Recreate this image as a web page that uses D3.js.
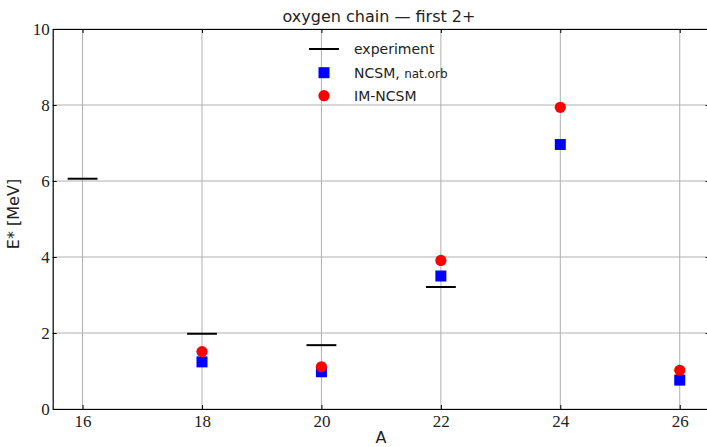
<!DOCTYPE html>
<html>
<head>
<meta charset="utf-8">
<script src="https://cdn.jsdelivr.net/npm/d3@7"></script>
<style>
  html, body { margin: 0; padding: 0; background: #fff; }
  svg { display: block; }
</style>
</head>
<body>
<svg id="chart" width="707" height="447"></svg>
<script>
// Mass numbers and excitation energies of the first 2+ state (MeV)
const expA = [16, 18, 20, 22];
const expE = [6.06, 1.98, 1.68, 3.21];
const ncsmA = [18, 20, 22, 24, 26];
const ncsmE = [1.24, 0.98, 3.50, 6.96, 0.76];
const imA = [18, 20, 22, 24, 26];
const imE = [1.51, 1.11, 3.91, 7.94, 1.02];
const xTicks = [16, 18, 20, 22, 24, 26];
const yTicks = [0, 2, 4, 6, 8, 10];

const svg = d3.select("#chart");
const plotLeft = 52.7, plotRight = 709.6, plotTop = 29, plotBottom = 409;

const x = d3.scaleLinear().domain([15.5, 26.5]).range([plotLeft, plotRight]);
const y = d3.scaleLinear().domain([0, 10]).range([plotBottom, plotTop]);

const serif = "'Liberation Serif','DejaVu Serif',serif";
const sans = "'DejaVu Sans','Open Sans',sans-serif";

// grid
const g = svg.append("g");
g.selectAll(".gx").data(xTicks).enter().append("line")
  .attr("x1", d => x(d)).attr("x2", d => x(d))
  .attr("y1", plotTop).attr("y2", plotBottom)
  .attr("stroke", "#b0b0b0").attr("stroke-width", 1);
g.selectAll(".gy").data(yTicks).enter().append("line")
  .attr("x1", plotLeft).attr("x2", plotRight)
  .attr("y1", d => y(d)).attr("y2", d => y(d))
  .attr("stroke", "#b0b0b0").attr("stroke-width", 1);

// axes with inward ticks
const xAxis = svg.append("g").attr("transform", `translate(0,${plotBottom})`)
  .call(d3.axisBottom(x).tickValues(xTicks).tickSizeInner(-4).tickSizeOuter(0).tickPadding(6));
const yAxis = svg.append("g").attr("transform", `translate(${plotLeft},0)`)
  .call(d3.axisLeft(y).tickValues(yTicks).tickSizeInner(-4).tickSizeOuter(0).tickPadding(3));
const xTop = svg.append("g").attr("transform", `translate(0,${plotTop})`)
  .call(d3.axisTop(x).tickValues(xTicks).tickSizeInner(-4).tickSizeOuter(0).tickFormat(""));
const yRight = svg.append("g").attr("transform", `translate(${plotRight},0)`)
  .call(d3.axisRight(y).tickValues(yTicks).tickSizeInner(-4).tickSizeOuter(0).tickFormat(""));
[xAxis, yAxis, xTop, yRight].forEach(a => {
  a.select(".domain").attr("stroke", "#000").attr("stroke-width", 1.2);
  a.selectAll(".tick line").attr("stroke", "#000");
  a.selectAll(".tick text").attr("font-family", serif).attr("font-size", 17).attr("fill", "#222");
});

// experiment: short horizontal bars
svg.append("g").selectAll("line").data(expA.map((a, i) => [a, expE[i]])).enter().append("line")
  .attr("x1", d => x(d[0] - 0.25)).attr("x2", d => x(d[0] + 0.25))
  .attr("y1", d => y(d[1])).attr("y2", d => y(d[1]))
  .attr("stroke", "#000").attr("stroke-width", 2);

// NCSM squares
const sq = 11;
svg.append("g").selectAll("rect").data(ncsmA.map((a, i) => [a, ncsmE[i]])).enter().append("rect")
  .attr("x", d => x(d[0]) - sq / 2).attr("y", d => y(d[1]) - sq / 2)
  .attr("width", sq).attr("height", sq).attr("fill", "#0000ff");

// IM-NCSM circles
svg.append("g").selectAll("circle").data(imA.map((a, i) => [a, imE[i]])).enter().append("circle")
  .attr("cx", d => x(d[0])).attr("cy", d => y(d[1])).attr("r", 5.6).attr("fill", "#ff0000");

// legend
const lg = svg.append("g").attr("font-family", sans).attr("fill", "#222");
lg.append("line").attr("x1", 309).attr("x2", 339).attr("y1", 49).attr("y2", 49)
  .attr("stroke", "#000").attr("stroke-width", 2);
lg.append("rect").attr("x", 324 - sq / 2).attr("y", 72.7 - sq / 2).attr("width", sq).attr("height", sq).attr("fill", "#0000ff");
lg.append("circle").attr("cx", 324).attr("cy", 95.7).attr("r", 5.6).attr("fill", "#ff0000");
lg.append("text").attr("x", 354).attr("y", 54).attr("font-size", 14).text("experiment");
const t2 = lg.append("text").attr("x", 354).attr("y", 78).attr("font-size", 14);
t2.append("tspan").text("NCSM, ");
t2.append("tspan").attr("font-size", 12).text("nat.orb");
lg.append("text").attr("x", 354).attr("y", 101).attr("font-size", 14).text("IM-NCSM");

// title and axis labels
svg.append("text").attr("x", 379).attr("y", 22).attr("text-anchor", "middle")
  .attr("font-family", sans).attr("font-size", 16).attr("fill", "#222")
  .text("oxygen chain — first 2+");
svg.append("text").attr("x", 381).attr("y", 443).attr("text-anchor", "middle")
  .attr("font-family", sans).attr("font-size", 16).attr("fill", "#222").text("A");
svg.append("text").attr("transform", "translate(19,214) rotate(-90)").attr("text-anchor", "middle")
  .attr("font-family", sans).attr("font-size", 16).attr("fill", "#222").text("E* [MeV]");
</script>
</body>
</html>
